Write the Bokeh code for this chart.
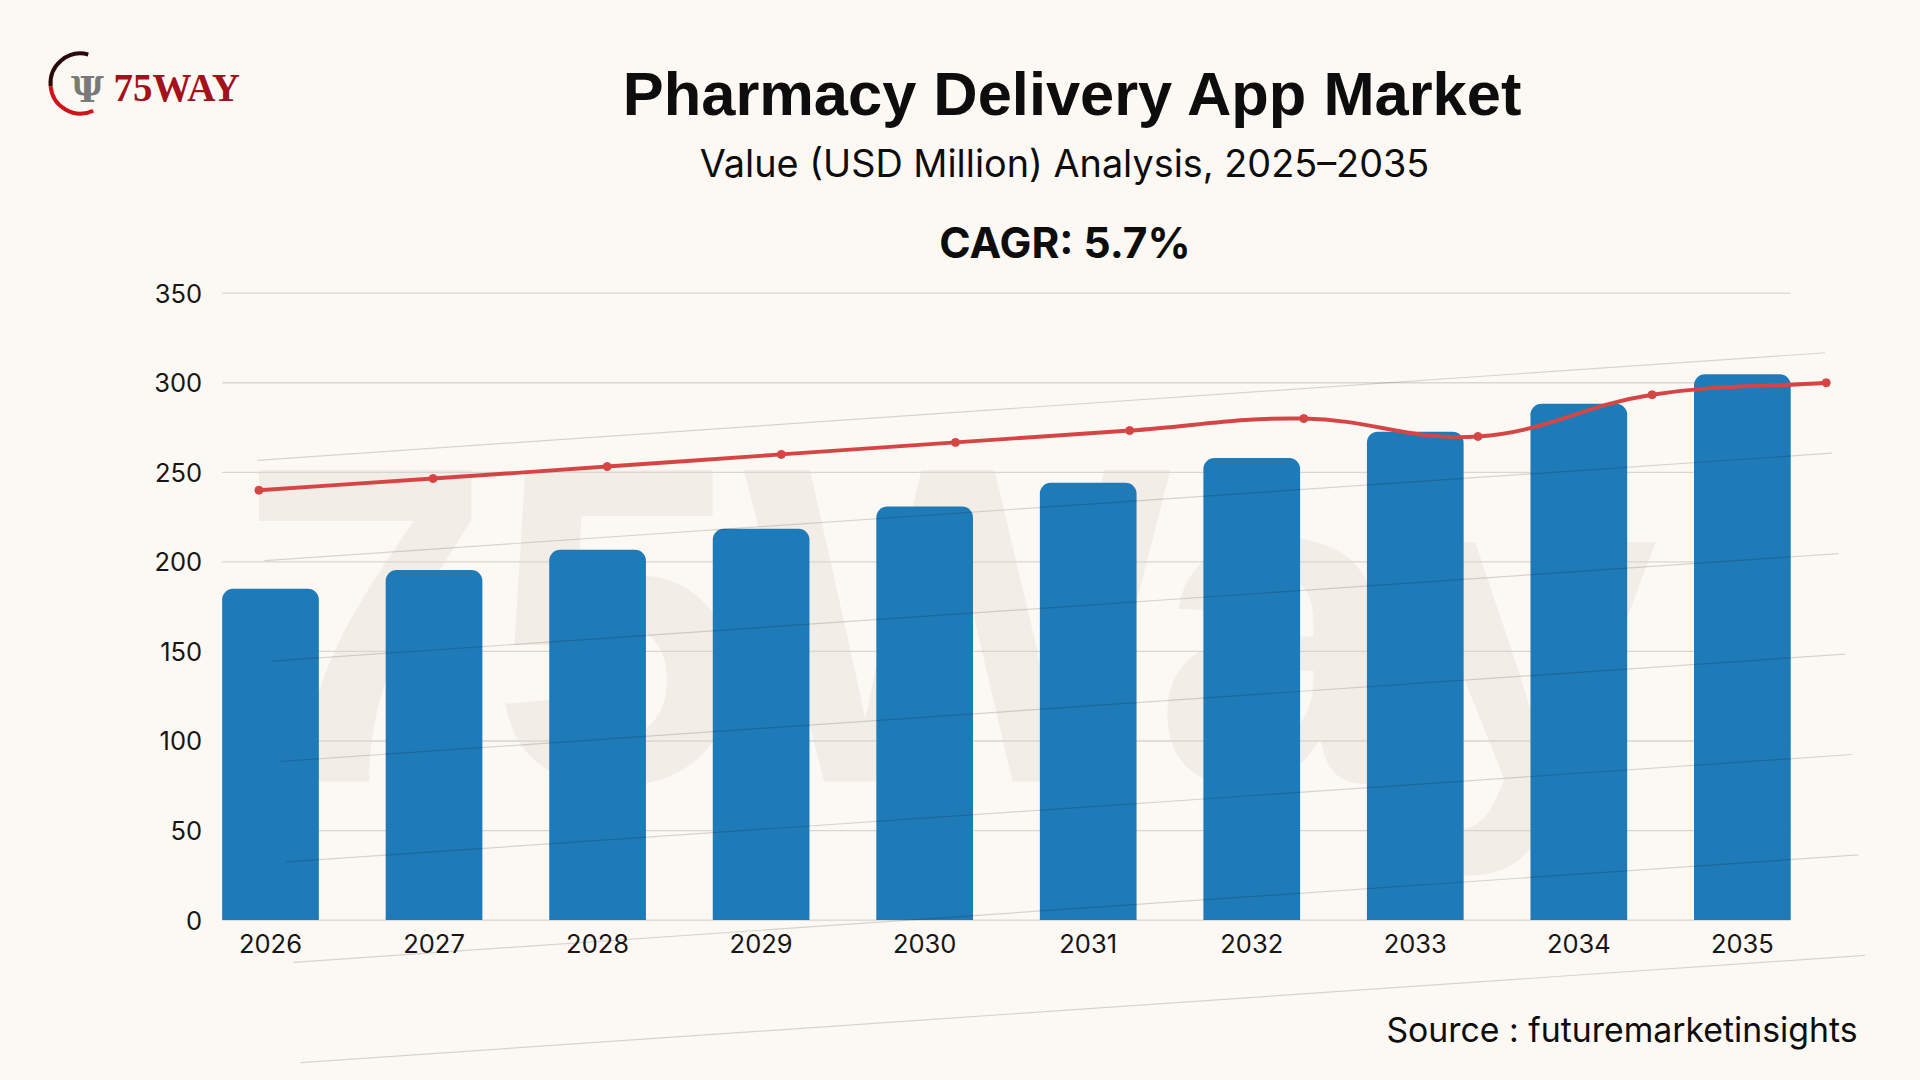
import numpy as np
from bokeh.plotting import figure
from bokeh.models import Range1d, FixedTicker, Label
from bokeh.embed import file_html
from bokeh.resources import INLINE
from bokeh.core.properties import value

# ---------------- data ----------------
years = ["2026", "2027", "2028", "2029", "2030", "2031", "2032", "2033", "2034", "2035"]
market_value = [185.0, 195.5, 206.7, 218.5, 230.9, 244.1, 258.0, 272.7, 288.3, 304.7]
trend_value = [240.0, 246.5, 253.2, 260.0, 266.7, 273.3, 280.0, 270.0, 293.3, 300.0]
y_ticks = [0, 50, 100, 150, 200, 250, 300, 350]

title_text = "Pharmacy Delivery App Market"
subtitle_text = "Value (USD Million) Analysis, 2025\u20132035"
cagr_text = "CAGR: 5.7%"
source_text = "Source : futuremarketinsights"
logo_text = "75WAY"
watermark_text = "75Way"

# ---------------- styles ----------------
BG = "#fcf8f3"
BAR = "#1f7ab8"
RED = "#d64545"
GRID = "#d9d5cf"
INK = "#0d0d0d"

# ---------------- layout (reference design is 1920x1080) ----------------
REF_W, REF_H = 1920, 1080
W, H = 1920, 1080
SX, SY = W / REF_W, H / REF_H
BAR_C0, BAR_STEP, BAR_W_PX = 270.0, 163.54, 96.7
LINE_X0, LINE_STEP = 258.4, 174.15
PX_PER_UNIT = 1.7912
Y0 = 919.6 * SY                      # canvas y of value 0
K = PX_PER_UNIT * SY

x_start = (0 - BAR_C0 * SX) / (BAR_STEP * SX)
x_end = (W - BAR_C0 * SX) / (BAR_STEP * SX)
y_start = (Y0 - H) / K
y_end = Y0 / K
lx_start = (0 - LINE_X0 * SX) / (LINE_STEP * SX)
lx_end = (W - LINE_X0 * SX) / (LINE_STEP * SX)
half = BAR_W_PX / BAR_STEP / 2


def dx(px):
    return (px - BAR_C0) / BAR_STEP


def dy(py):
    return (Y0 - py * SY) / K


def fsz(px):
    return px * SY


def mid(baseline, size, k):
    # text drawn with middle baseline: convert alphabetic baseline to centre
    return dy(baseline - k * size)


p = figure(width=W, height=H, title=None,
           x_range=Range1d(x_start, x_end), y_range=Range1d(y_start, y_end),
           output_backend="svg", toolbar_location=None,
           min_border_left=0, min_border_right=0, min_border_top=0,
           min_border_bottom=0,
           background_fill_color=BG, border_fill_color=BG, outline_line_color=None)
p.extra_x_ranges = {"trend": Range1d(lx_start, lx_end)}
p.xgrid.visible = False
p.ygrid.visible = False

# watermark text
wm_size = 453
p.text(x=[dx(239)], y=[mid(781, wm_size, 0.3465)], text=[watermark_text],
       text_font=value("Liberation Sans"), text_font_style="bold",
       text_font_size=f"{fsz(wm_size):.1f}px", text_color="#f2ede6",
       text_align="left", text_baseline="middle")

# gridlines
p.segment(x0=[-half] * len(y_ticks), x1=[len(years) - 1 + half] * len(y_ticks),
          y0=y_ticks, y1=y_ticks, line_color=GRID, line_width=1.3)

# bars
idx = list(range(len(years)))
p.vbar(x=idx, top=market_value, width=2 * half, bottom=0,
       fill_color=BAR, line_color=None, border_radius=(11, 11, 0, 0))

# watermark slanted lines
wx0, wy0, wx1 = [], [], []
for k in range(7):
    wx0.append(256.8 + 7.2 * k)
    wy0.append(459.8 + 100.4 * k)
    wx1.append(1824.5 + 6.7 * k)
wy1 = [a - 0.0686 * (c - b) for a, b, c in zip(wy0, wx0, wx1)]
p.segment(x0=[dx(v) for v in wx0], y0=[dy(v) for v in wy0],
          x1=[dx(v) for v in wx1], y1=[dy(v) for v in wy1],
          line_color="black", line_alpha=0.15, line_width=1.2)

# smoothed trend line (cubic bezier, tension 0.4 in pixel space)
n = len(trend_value)
px = np.arange(n) * LINE_STEP
py = np.array(trend_value) * PX_PER_UNIT
t = 0.4
cp_prev, cp_next = [], []
for i in range(n):
    a = max(i - 1, 0)
    b = min(i + 1, n - 1)
    d01 = np.hypot(px[i] - px[a], py[i] - py[a])
    d12 = np.hypot(px[b] - px[i], py[b] - py[i])
    tot = d01 + d12
    s01 = d01 / tot if tot else 0
    s12 = d12 / tot if tot else 0
    vx, vy = px[b] - px[a], py[b] - py[a]
    cp_prev.append((px[i] - t * s01 * vx, py[i] - t * s01 * vy))
    cp_next.append((px[i] + t * s12 * vx, py[i] + t * s12 * vy))
p.bezier(x0=list(range(n - 1)), y0=trend_value[:-1],
         x1=list(range(1, n)), y1=trend_value[1:],
         cx0=[cp_next[i][0] / LINE_STEP for i in range(n - 1)],
         cy0=[cp_next[i][1] / PX_PER_UNIT for i in range(n - 1)],
         cx1=[cp_prev[i + 1][0] / LINE_STEP for i in range(n - 1)],
         cy1=[cp_prev[i + 1][1] / PX_PER_UNIT for i in range(n - 1)],
         line_color=RED, line_width=3.9, x_range_name="trend")
p.scatter(x=idx, y=trend_value, size=8, fill_color=RED, line_color=RED,
          x_range_name="trend")

# axes (drawn inside the full-canvas frame at fixed locations)
p.xaxis.ticker = FixedTicker(ticks=idx)
p.xaxis.major_label_overrides = {i: y for i, y in enumerate(years)}
p.yaxis.ticker = FixedTicker(ticks=y_ticks)
for ax in (p.xaxis, p.yaxis):
    ax.axis_line_color = None
    ax.major_tick_line_color = None
    ax.minor_tick_line_color = None
    ax.major_tick_in = 0
    ax.major_tick_out = 0
    ax.major_label_text_font = "Inter"
    ax.major_label_text_font_size = f"{fsz(25.5):.1f}px"
    ax.major_label_text_color = "#161616"
p.xaxis.fixed_location = 0
p.yaxis.fixed_location = -half
p.xaxis.major_label_standoff = 14
p.yaxis.major_label_standoff = 20

# texts
def add_label(x, baseline, text, font, size, k, align="center", bold=False, color=INK):
    p.add_layout(Label(x=dx(x), y=mid(baseline, size, k), text=text, text_align=align,
                       text_baseline="middle", text_font=font,
                       text_font_style="bold" if bold else "normal",
                       text_font_size=f"{fsz(size):.1f}px", text_color=color))


add_label(1072.7, 114.3, title_text, "Liberation Sans", 61.4, 0.3465, bold=True)
add_label(1064.0, 176.7, subtitle_text, "Inter", 37.8, 0.3635)
add_label(1064.5, 257.3, cagr_text, "Inter", 42.5, 0.3635, bold=True)
add_label(1857.0, 1041.7, source_text, "Inter", 33.8, 0.3635, align="right")

# logo
p.arc(x=[dx(80)], y=[dy(83)], radius=30 * SY, radius_units="screen",
      start_angle=np.deg2rad(75), end_angle=np.deg2rad(185), direction="anticlock",
      line_color="#2a0a0a", line_width=4)
p.arc(x=[dx(80)], y=[dy(83)], radius=30 * SY, radius_units="screen",
      start_angle=np.deg2rad(185), end_angle=np.deg2rad(295), direction="anticlock",
      line_color="#d0121b", line_width=4)
add_label(87, 101, "\u03a8", "DejaVu Serif", 36, 0.346, bold=True, color="#7a7a7a")
add_label(113, 100, logo_text, "Liberation Serif", 39, 0.3375, align="left", bold=True,
          color="#a3111b")

html = file_html(p, INLINE, title=title_text)
html = html.replace("</head>", "<style>body{background:#fcf8f3;}</style></head>")
open("out.html", "w").write(html)
